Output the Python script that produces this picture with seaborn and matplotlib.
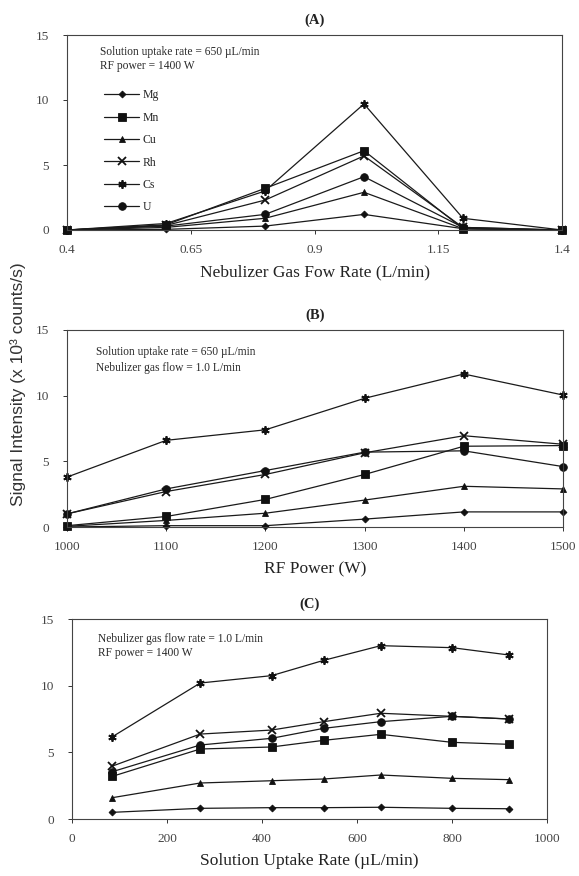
import matplotlib
matplotlib.use("Agg")
import matplotlib.pyplot as plt
import seaborn as sns
import pandas as pd

sns.set_style("ticks")
plt.rcParams["font.family"] = ["Liberation Serif", "DejaVu Serif"]

elements = ["Mg", "Mn", "Cu", "Rh", "Cs", "U"]
markers = {"Mg": "D", "Mn": "s", "Cu": "^", "Rh": "x", "Cs": (6, 2, 0), "U": "o"}
msizes = {"Mg": 3.5, "Mn": 5.5, "Cu": 5, "Rh": 6, "Cs": 6, "U": 5.5}

# (A) nebulizer gas flow rate, L/min
gas_flow = [0.4, 0.6, 0.8, 1.0, 1.2, 1.4]
gas_Mg = [0.0, 0.05, 0.3, 1.2, 0.1, 0.0]
gas_Mn = [0.0, 0.4, 3.2, 6.1, 0.1, 0.0]
gas_Cu = [0.0, 0.2, 0.9, 2.9, 0.1, 0.0]
gas_Rh = [0.0, 0.35, 2.3, 5.7, 0.2, 0.0]
gas_Cs = [0.0, 0.5, 3.0, 9.7, 0.9, 0.0]
gas_U = [0.0, 0.3, 1.2, 4.1, 0.2, 0.0]

# (B) RF power, W
rf_power = [1000, 1100, 1200, 1300, 1400, 1500]
rf_Mg = [0.0, 0.1, 0.1, 0.6, 1.15, 1.15]
rf_Mn = [0.1, 0.8, 2.1, 4.0, 6.15, 6.2]
rf_Cu = [0.05, 0.5, 1.05, 2.05, 3.1, 2.9]
rf_Rh = [1.0, 2.7, 4.0, 5.65, 6.95, 6.3]
rf_Cs = [3.8, 6.6, 7.4, 9.8, 11.65, 10.05]
rf_U = [1.0, 2.9, 4.3, 5.7, 5.8, 4.6]

# (C) solution uptake rate, uL/min
uptake = [85, 270, 420, 530, 650, 800, 920]
up_Mg = [0.5, 0.8, 0.85, 0.85, 0.88, 0.8, 0.77]
up_Mn = [3.2, 5.25, 5.4, 5.9, 6.35, 5.75, 5.6]
up_Cu = [1.6, 2.7, 2.87, 3.0, 3.3, 3.05, 2.95]
up_Rh = [3.97, 6.37, 6.67, 7.3, 7.93, 7.7, 7.5]
up_Cs = [6.17, 10.2, 10.75, 11.9, 13.0, 12.85, 12.3]
up_U = [3.55, 5.55, 6.05, 6.8, 7.3, 7.7, 7.5]

panels = [
    ("(A)", gas_flow, [gas_Mg, gas_Mn, gas_Cu, gas_Rh, gas_Cs, gas_U],
     "Nebulizer Gas Fow Rate (L/min)", [0.4, 0.65, 0.9, 1.15, 1.4], ["0.4", "0.65", "0.9", "1.15", "1.4"],
     (0.4, 1.4), ["Solution uptake rate = 650 \u00b5L/min", "RF power = 1400 W"],
     (0.067, [0.913, 0.841])),
    ("(B)", rf_power, [rf_Mg, rf_Mn, rf_Cu, rf_Rh, rf_Cs, rf_U],
     "RF Power (W)", rf_power, [str(v) for v in rf_power],
     (1000, 1500), ["Solution uptake rate = 650 \u00b5L/min", "Nebulizer gas flow = 1.0 L/min"],
     (0.058, [0.888, 0.807])),
    ("(C)", uptake, [up_Mg, up_Mn, up_Cu, up_Rh, up_Cs, up_U],
     "Solution Uptake Rate (\u00b5L/min)", [0, 200, 400, 600, 800, 1000], ["0", "200", "400", "600", "800", "1000"],
     (0, 1000), ["Nebulizer gas flow rate = 1.0 L/min", "RF power = 1400 W"],
     (0.055, [0.9, 0.83])),
]

W, H = 579, 876
fig = plt.figure(figsize=(W / 100, H / 100), dpi=100)
fig.patch.set_facecolor("white")

# axes boxes in pixels: left, top, right, bottom
boxes = [(67, 35, 562, 230), (67, 330, 563, 527), (72, 619, 547, 819)]

for (title, xs, series, xlabel, xt, xtl, xlim, notes, (nx, nys)), (l, t, r, b) in zip(panels, boxes):
    ax = fig.add_axes([l / W, (H - b) / H, (r - l) / W, (b - t) / H])
    for name, ys in zip(elements, series):
        df = pd.DataFrame({"x": xs, "y": ys})
        sns.lineplot(data=df, x="x", y="y", ax=ax, color="#1a1a1a", linewidth=0.9,
                     marker=markers[name], markersize=msizes[name],
                     markeredgewidth=1.3 if name in ("Rh", "Cs") else 0.6,
                     markeredgecolor="#111111", markerfacecolor="#111111",
                     label=name, legend=False, clip_on=False)
    ax.set_xlim(*xlim)
    ax.set_ylim(0, 15)
    ax.set_xticks(xt)
    ax.set_xticklabels(xtl)
    ax.set_yticks([0, 5, 10, 15])
    ax.set_yticklabels(["0", "5", "10", "15"])
    ax.tick_params(axis="both", labelsize=9.5, colors="#333333", length=3, width=0.7,
                   labelcolor="#444444", pad=7)
    ax.tick_params(axis="y", pad=10)
    for s in ax.spines.values():
        s.set_visible(True)
        s.set_linewidth(0.8)
        s.set_color("#444444")
    ax.set_xlabel(xlabel, fontsize=12.5, color="#222222", labelpad=6)
    ax.set_ylabel("")
    ax.set_title(title, fontsize=10.5, fontweight="bold", color="#222222", pad=8)
    for note, ny in zip(notes, nys):
        ax.text(nx, ny, note, transform=ax.transAxes,
                fontsize=8.3, color="#2a2a2a", va="center", ha="left")
    if title == "(A)":
        ax.legend(loc="upper left", bbox_to_anchor=(0.065, 0.745), frameon=False,
                  fontsize=8.5, labelspacing=0.88, handlelength=3.0,
                  handletextpad=0.3, borderaxespad=0)

fig.text(18 / W, (H - 384) / H, "Signal Intensity (x 10\u00b3 counts/s)", rotation=90,
         fontsize=12.5, color="#333333", ha="center", va="center",
         family=["Liberation Sans", "DejaVu Sans"])

fig.savefig("out.png", dpi=100, facecolor="white")
